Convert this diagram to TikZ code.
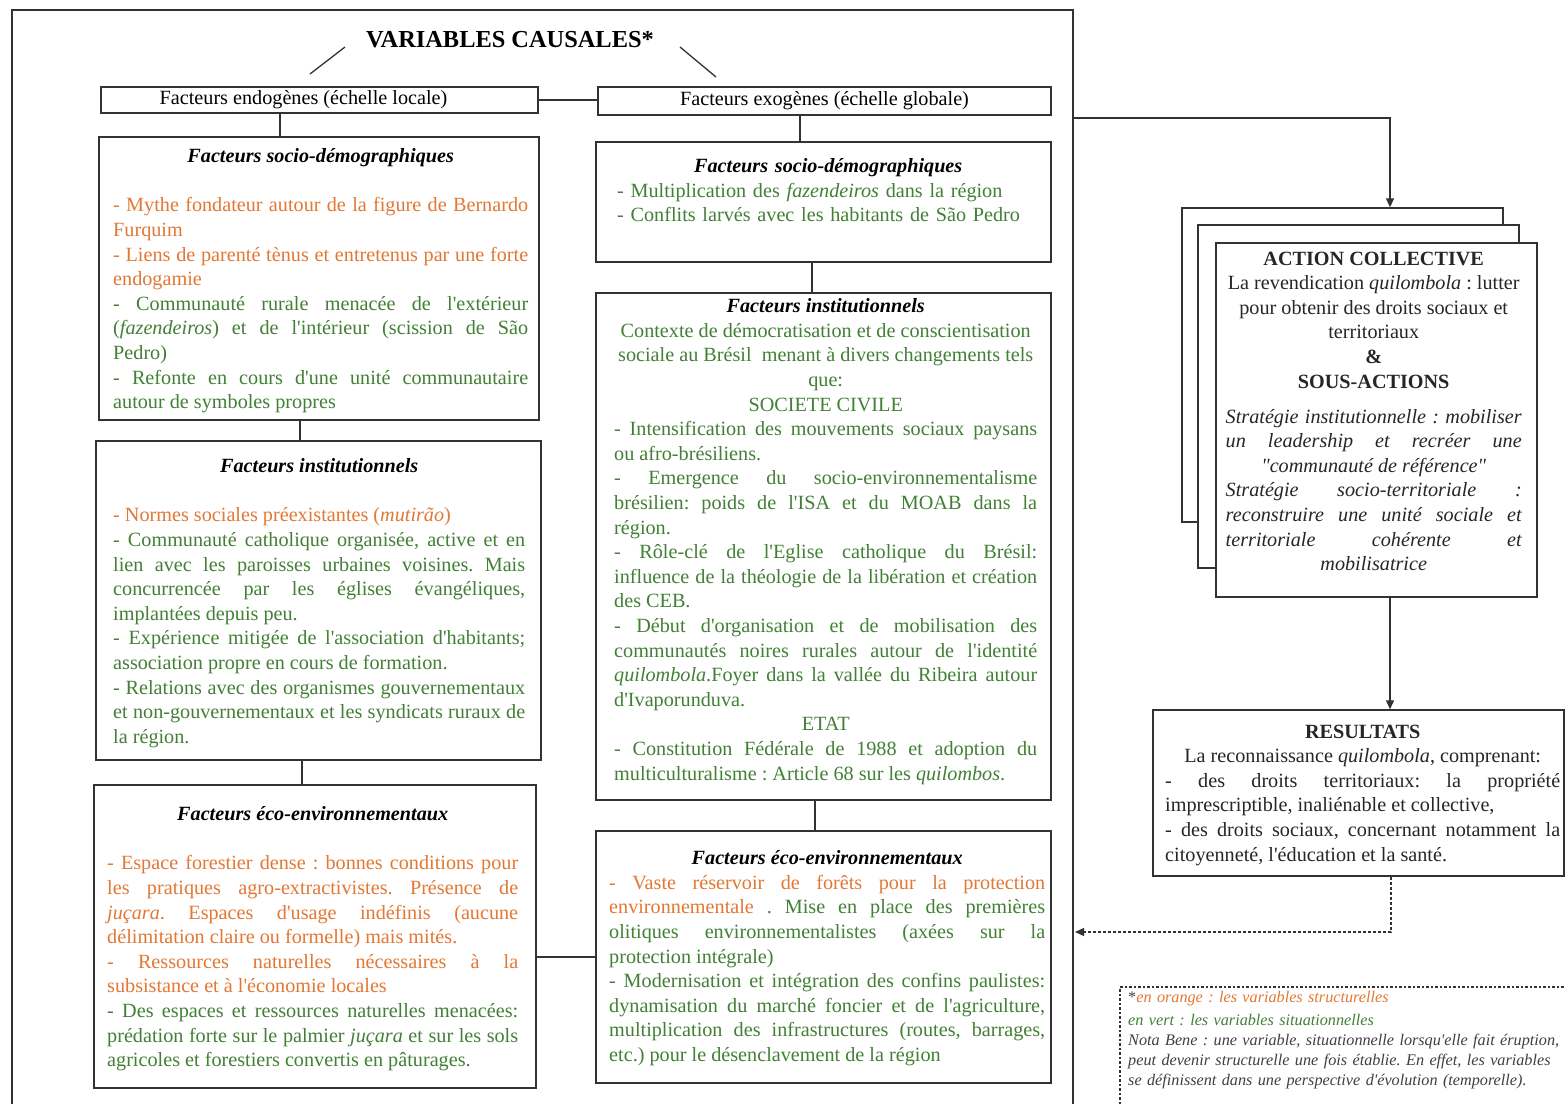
\documentclass[tikz,border=0pt]{standalone}
\usepackage{fontspec}
\setmainfont{Liberation Serif}[Ligatures=TeXOff]
\usepackage{tikz}
\usetikzlibrary{arrows.meta}
\definecolor{orangeV}{RGB}{226,120,52}
\definecolor{vertV}{RGB}{66,128,54}
\definecolor{trait}{RGB}{50,50,50}
\newcommand{\corps}{\fontsize{20.2}{24.6}\selectfont\frenchspacing}
\newcommand{\petit}{\fontsize{16.2}{20}\selectfont\frenchspacing}
\newcommand{\titre}{\color{black}\bfseries\itshape}
\newcommand{\orange}[1]{\textcolor{orangeV}{#1}}
\hyphenpenalty=10000
\exhyphenpenalty=10000
\tolerance=9999

\begin{document}
\begin{tikzpicture}[x=1pt, y=-1pt,
    cadre/.style={draw=trait, line width=1.4pt, fill=white},
    texte/.style={anchor=north west, inner sep=0pt, align=justify, font=\corps, text=vertV},
    lien/.style={draw=trait, line width=1.3pt},
    fleche/.style={lien, -{Triangle[length=9pt, width=8pt]}}]
  \useasboundingbox (0,0) rectangle (1565,1103);
  % cadre des variables causales
  \draw[lien] (12,1110) |- (1073,10) -- (1073,1110);
  \coordinate (sortie) at (1073,118);
  \coordinate (retour) at (1075,932);
  \node[font=\fontsize{24.4}{28}\selectfont\bfseries] (var) at (510,40) {VARIABLES CAUSALES*};
  \draw[lien] (310,74) -- (345,47);
  \draw[lien] (680,47) -- (716,77);
  \node[cadre, minimum width=437pt, minimum height=26pt, font=\corps] (endo) at (319.5,100) {Facteurs endogènes (échelle locale)\hspace*{32pt}};
  \node[cadre, minimum width=453pt, minimum height=28pt, font=\corps] (exo) at (824.5,101) {Facteurs exogènes (échelle globale)};
  % facteurs endogènes
  \node[cadre, minimum width=440pt, minimum height=283pt] (lsd) at (319,278.5) {};
  \node[cadre, minimum width=445pt, minimum height=319pt] (linst) at (318.5,600.5) {};
  \node[cadre, minimum width=442pt, minimum height=303pt] (leco) at (315,936.5) {};
  \node[texte, text width=415pt] (lsdtxt) at (113,148.5) {
    \centerline{\titre Facteurs socio-démographiques}\par
    \vspace{24.6pt}
    \orange{- Mythe fondateur autour de la figure de Bernardo\linebreak Furquim}\par
    \orange{- Liens de parenté tènus et entretenus par une forte\linebreak endogamie}\par
    - Communauté rurale menacée de l'extérieur\linebreak (\textit{fazendeiros}) et de l'intérieur (scission de São\linebreak Pedro)\par
    - Refonte en cours d'une unité communautaire\linebreak autour de symboles propres};
  \node[texte, text width=412pt] (linsttxt) at (113,458.5) {
    \centerline{\titre Facteurs institutionnels}\par
    \vspace{24.6pt}
    \orange{- Normes sociales préexistantes (\textit{mutirão})}\par
    - Communauté catholique organisée, active et en\linebreak lien avec les paroisses urbaines voisines. Mais\linebreak concurrencée par les églises évangéliques,\linebreak implantées depuis peu.\par
    - Expérience mitigée de l'association d'habitants;\linebreak association propre en cours de formation.\par
    - Relations avec des organismes gouvernementaux\linebreak et non-gouvernementaux et les syndicats ruraux de\linebreak la région.};
  \node[texte, text width=411pt] (lecotxt) at (107,806.5) {
    \centerline{\titre Facteurs éco-environnementaux}\par
    \vspace{24.6pt}
    \orange{- Espace forestier dense : bonnes conditions pour\linebreak les pratiques agro-extractivistes. Présence de\linebreak \textit{juçara}. Espaces d'usage indéfinis (aucune\linebreak délimitation claire ou formelle) mais mités.}\par
    \orange{- Ressources naturelles nécessaires à la\linebreak subsistance et à l'économie locales}\par
    - Des espaces et ressources naturelles menacées:\linebreak prédation forte sur le palmier \textit{juçara} et sur les sols\linebreak agricoles et forestiers convertis en pâturages.};
  % facteurs exogènes
  \node[cadre, minimum width=455pt, minimum height=120pt] (rsd) at (823.5,202) {};
  \node[cadre, minimum width=455pt, minimum height=507pt] (rinst) at (823.5,546.5) {};
  \node[cadre, minimum width=455pt, minimum height=252pt] (reco) at (823.5,957) {};
  \node[texte, text width=422pt, align=left] (rsdtxt) at (617,158.5) {
    \centerline{\titre Facteurs socio-démographiques}\par
    - Multiplication des \textit{fazendeiros} dans la région\par
    - Conflits larvés avec les habitants de São Pedro};
  \node[texte, text width=423pt] (rinsttxt) at (614,298.5) {
    \centerline{\titre Facteurs institutionnels}\par
    \centerline{Contexte de démocratisation et de conscientisation}\par
    \centerline{sociale au Brésil\ \ menant à divers changements tels}\par
    \centerline{que:}\par
    \centerline{SOCIETE CIVILE}\par
    - Intensification des mouvements sociaux paysans\linebreak ou afro-brésiliens.\par
    - Emergence du socio-environnementalisme\linebreak brésilien: poids de l'ISA et du MOAB dans la\linebreak région.\par
    - Rôle-clé de l'Eglise catholique du Brésil:\linebreak influence de la théologie de la libération et création\linebreak des CEB.\par
    - Début d'organisation et de mobilisation des\linebreak communautés noires rurales autour de l'identité\linebreak \textit{quilombola}.Foyer dans la vallée du Ribeira autour\linebreak d'Ivaporunduva.\par
    \centerline{ETAT}\par
    - Constitution Fédérale de 1988 et adoption du\linebreak multiculturalisme : Article 68 sur les \textit{quilombos}.};
  \node[texte, text width=436pt] (recotxt) at (609,850.5) {
    \centerline{\titre Facteurs éco-environnementaux}\par
    \orange{- Vaste réservoir de forêts pour la protection\linebreak environnementale}\ . Mise en place des premières\linebreak olitiques environnementalistes (axées sur la\linebreak protection intégrale)\par
    - Modernisation et intégration des confins paulistes:\linebreak dynamisation du marché foncier et de l'agriculture,\linebreak multiplication des infrastructures (routes, barrages,\linebreak etc.) pour le désenclavement de la région};
  \draw[lien] (endo.east) -- (endo.east -| exo.west);
  \draw[lien] ([xshift=-39.5pt]endo.south) -- ([xshift=-39.5pt]endo.south |- lsd.north);
  \draw[lien] ([xshift=-24.5pt]exo.south) -- ([xshift=-24.5pt]exo.south |- rsd.north);
  \draw[lien] ([xshift=-19pt]lsd.south) -- ([xshift=-19pt]lsd.south |- linst.north);
  \draw[lien] ([xshift=-16.5pt]linst.south) -- ([xshift=-16.5pt]linst.south |- leco.north);
  \draw[lien] ([xshift=-11.5pt]rsd.south) -- ([xshift=-11.5pt]rsd.south |- rinst.north);
  \draw[lien] ([xshift=-8.5pt]rinst.south) -- ([xshift=-8.5pt]rinst.south |- reco.north);
  \draw[lien] (reco.west -| leco.east) -- (reco.west);
  % action collective
  \node[cadre, minimum width=321pt, minimum height=314pt] (act3) at (1342.5,365) {};
  \node[cadre, minimum width=321pt, minimum height=343pt] (act2) at (1358.5,396.5) {};
  \node[cadre, minimum width=321pt, minimum height=354pt] (act1) at (1376.5,420) {};
  \node[texte, text=black!85, text width=296pt] (acttxt) at (1225.5,251.5) {
    \centerline{\bfseries ACTION COLLECTIVE}\par
    \centerline{La revendication \textit{quilombola} : lutter}\par
    \centerline{pour obtenir des droits sociaux et}\par
    \centerline{territoriaux}\par
    \centerline{\bfseries \&}\par
    \centerline{\bfseries SOUS-ACTIONS}\par
    \vspace{10.5pt}
    {\itshape\parfillskip=0pt Stratégie institutionnelle : mobiliser\linebreak un leadership et recréer une\par}
    \centerline{\itshape "communauté de référence"}\par
    {\itshape\parfillskip=0pt Stratégie socio-territoriale :\linebreak reconstruire une unité sociale et\linebreak territoriale cohérente et\par}
    \centerline{\itshape mobilisatrice}};
  % résultats
  \node[cadre, minimum width=411pt, minimum height=166pt] (res) at (1358.5,793) {};
  \node[texte, text=black!85, text width=395pt] (restxt) at (1165,724.5) {
    \centerline{\bfseries RESULTATS}\par
    \centerline{La reconnaissance \textit{quilombola}, comprenant:}\par
    - des droits territoriaux: la propriété\linebreak imprescriptible, inaliénable et collective,\par
    - des droits sociaux, concernant notamment la\linebreak citoyenneté, l'éducation et la santé.};
  \draw[fleche] (sortie) -| ([xshift=47.5pt]act3.north);
  \draw[fleche] ([xshift=13.5pt]act1.south) -- ([xshift=13.5pt]act1.south |- res.north);
  \draw[fleche, dash pattern=on 3pt off 2pt] ([xshift=32.5pt]res.south) |- (retour);
  % légende
  \node[cadre, dash pattern=on 2.5pt off 2pt, minimum width=460pt, minimum height=140pt] (nota) at (1350,1057) {};
  \node[texte, font=\petit\itshape, text=black!75, text width=440pt, align=left] (notatxt) at (1128,991) {
    {\upshape *}\textcolor{orangeV}{en orange : les variables structurelles}\\[3pt]
    \textcolor{vertV}{en vert : les variables situationnelles}\\
    Nota Bene : une variable, situationnelle lorsqu'elle fait éruption,\\
    peut devenir structurelle une fois établie. En effet, les variables\\
    se définissent dans une perspective d'évolution (temporelle).};
\end{tikzpicture}
\end{document}
